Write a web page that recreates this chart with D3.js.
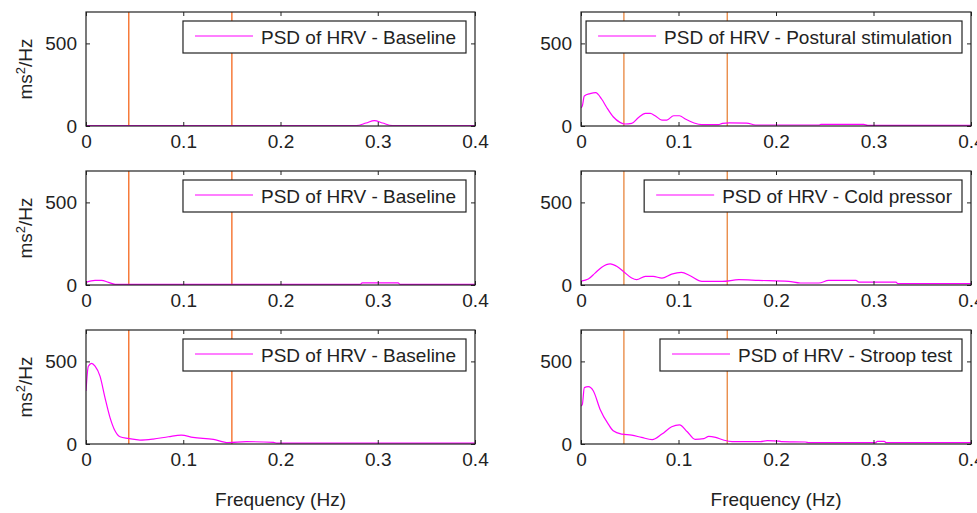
<!DOCTYPE html>
<html lang="en">
<head>
<meta charset="UTF-8">
<title>PSD of HRV</title>
<script src="https://cdn.jsdelivr.net/npm/d3@7"></script>
<style>
  body { margin: 0; background: #fff; }
  svg { display: block; font-family: Arial, "Liberation Sans", sans-serif; }
</style>
</head>
<body>
<svg id="chart" width="977" height="513"></svg>
<script>
// ticks and band limits (Hz)
const xTicks = [0, 0.1, 0.2, 0.3, 0.4];
const yTicks = [0, 500];
const bandEdges = [0.044, 0.15];

// PSD curves (frequency in Hz, PSD in ms^2/Hz)
const baselineAFreq = [0, 0.2, 0.278, 0.288, 0.2965, 0.305, 0.315, 0.4];
const baselineAPsd  = [3, 3, 3, 18, 33, 18, 3, 3];

const posturalFreq = [0, 0.0014, 0.0034, 0.0093, 0.015, 0.0213, 0.0264, 0.033, 0.040, 0.045, 0.052, 0.059, 0.066, 0.071, 0.076, 0.083, 0.088, 0.095, 0.101, 0.107, 0.116, 0.124, 0.141, 0.145, 0.152, 0.170, 0.179, 0.244, 0.246, 0.290, 0.294, 0.4];
const posturalPsd  = [110, 122, 182, 196, 202, 162, 112, 56, 22, 12, 16, 52, 76, 76, 62, 36, 36, 62, 62, 42, 18, 8, 8, 16, 19, 18, 6, 6, 10, 10, 4, 4];

const baselineBFreq = [0, 0.0093, 0.016, 0.023, 0.030, 0.282, 0.284, 0.321, 0.323, 0.4];
const baselineBPsd  = [16, 28, 28, 16, 4, 4, 13, 13, 4, 4];

const coldFreq = [0, 0.0075, 0.0144, 0.0213, 0.030, 0.037, 0.0435, 0.052, 0.057, 0.066, 0.074, 0.083, 0.093, 0.103, 0.112, 0.124, 0.145, 0.162, 0.182, 0.213, 0.225, 0.244, 0.254, 0.282, 0.285, 0.323, 0.325, 0.4];
const coldPsd  = [24, 36, 72, 108, 128, 112, 82, 42, 32, 52, 52, 42, 66, 76, 56, 22, 22, 32, 28, 22, 12, 12, 28, 28, 18, 18, 8, 8];

const baselineCFreq = [0, 0.0024, 0.0058, 0.0093, 0.0144, 0.0195, 0.0247, 0.0298, 0.035, 0.0435, 0.0555, 0.069, 0.0847, 0.098, 0.110, 0.131, 0.146, 0.165, 0.193, 0.196, 0.4];
const baselineCPsd  = [321, 471, 488, 471, 411, 281, 160, 80, 44, 34, 24, 30, 44, 54, 40, 28, 8, 14, 10, 5, 5];

const stroopFreq = [0, 0.0014, 0.0034, 0.0075, 0.0127, 0.0195, 0.028, 0.033, 0.0418, 0.052, 0.062, 0.073, 0.083, 0.093, 0.101, 0.109, 0.117, 0.126, 0.131, 0.138, 0.146, 0.155, 0.184, 0.191, 0.203, 0.206, 0.230, 0.234, 0.302, 0.304, 0.311, 0.313, 0.4];
const stroopPsd  = [230, 241, 341, 347, 321, 211, 120, 80, 60, 54, 40, 26, 60, 104, 116, 74, 28, 32, 46, 40, 24, 14, 14, 20, 18, 14, 12, 8, 8, 16, 16, 8, 8];

const legendLabels = [
  "PSD of HRV - Baseline", "PSD of HRV - Postural stimulation",
  "PSD of HRV - Baseline", "PSD of HRV - Cold pressor",
  "PSD of HRV - Baseline", "PSD of HRV - Stroop test"
];

const panels = [
  { col: 0, row: 0, freq: baselineAFreq, psd: baselineAPsd },
  { col: 1, row: 0, freq: posturalFreq,  psd: posturalPsd },
  { col: 0, row: 1, freq: baselineBFreq, psd: baselineBPsd },
  { col: 1, row: 1, freq: coldFreq,      psd: coldPsd },
  { col: 0, row: 2, freq: baselineCFreq, psd: baselineCPsd },
  { col: 1, row: 2, freq: stroopFreq,    psd: stroopPsd }
].map((p, i) => ({ ...p, label: legendLabels[i] }));

// layout
const colX = [[86, 475], [581, 971]];
const rowY = [[12, 126], [171, 285], [330, 444]];
const bandColor = ["#f5661c", "#e8843c"];
const textColor = "#222";
const fontSize = 19;

const svg = d3.select("#chart");

panels.forEach((p, i) => {
  const [x0, x1] = colX[p.col];
  const [top, bottom] = rowY[p.row];
  const x = d3.scaleLinear().domain([0, 0.4]).range([x0, x1]);
  const y = d3.scaleLinear().domain([0, 690]).range([bottom, top]);
  const g = svg.append("g");

  g.append("clipPath").attr("id", "clip" + i)
    .append("rect").attr("x", x0).attr("y", top)
    .attr("width", x1 - x0).attr("height", bottom - top);

  // LF/HF band limits
  g.selectAll(".band").data(bandEdges).join("line")
    .attr("x1", d => x(d)).attr("x2", d => x(d))
    .attr("y1", top).attr("y2", bottom)
    .attr("stroke", bandColor[p.col]).attr("stroke-width", 1.3);

  // PSD curve
  const line = d3.line().curve(d3.curveMonotoneX)
    .x((d, k) => x(p.freq[k])).y(d => y(d));
  g.append("path").datum(p.psd)
    .attr("clip-path", `url(#clip${i})`)
    .attr("d", line)
    .attr("fill", "none").attr("stroke", "#ff00ff").attr("stroke-width", 1.2);

  // axes (inside ticks on all four sides)
  const fmtX = d => d === 0 ? "0" : d3.format(".1f")(d);
  const axes = [
    g.append("g").attr("transform", `translate(0,${bottom})`)
      .call(d3.axisBottom(x).tickValues(xTicks).tickSize(-4).tickPadding(9).tickFormat(fmtX)),
    g.append("g").attr("transform", `translate(0,${top})`)
      .call(d3.axisTop(x).tickValues(xTicks).tickSize(-4).tickFormat("")),
    g.append("g").attr("transform", `translate(${x0},0)`)
      .call(d3.axisLeft(y).tickValues(yTicks).tickSize(-4).tickPadding(9).tickFormat(d3.format("d"))),
    g.append("g").attr("transform", `translate(${x1},0)`)
      .call(d3.axisRight(y).tickValues(yTicks).tickSize(-4).tickFormat(""))
  ];
  axes.forEach(a => {
    a.select(".domain").remove();
    a.selectAll("line").attr("stroke", textColor);
    a.selectAll("text").attr("fill", textColor)
      .style("font-size", fontSize + "px").style("font-family", "Arial, 'Liberation Sans', sans-serif");
  });

  g.append("rect").attr("x", x0).attr("y", top)
    .attr("width", x1 - x0).attr("height", bottom - top)
    .attr("fill", "none").attr("stroke", textColor).attr("stroke-width", 1.2);

  // legend
  const lg = g.append("g");
  const legTop = top + 9, legRight = x1 - 9;
  const lbox = lg.append("rect");
  const txt = lg.append("text").text(p.label)
    .attr("y", legTop + 23).attr("fill", textColor)
    .style("font-size", fontSize + "px");
  const tw = txt.node().getComputedTextLength();
  const tx = legRight - 10 - tw;
  txt.attr("x", tx);
  const lx1 = tx - 8, lx0 = lx1 - 58;
  lg.append("line").attr("x1", lx0).attr("x2", lx1)
    .attr("y1", legTop + 15).attr("y2", legTop + 15)
    .attr("stroke", "#ff00ff").attr("stroke-width", 1.2);
  lbox.attr("x", lx0 - 12).attr("y", legTop)
    .attr("width", legRight - (lx0 - 12)).attr("height", 32)
    .attr("fill", "#fff").attr("stroke", textColor).attr("stroke-width", 1.2);

  // y label on the left column only
  if (p.col === 0) {
    const yl = svg.append("text")
      .attr("transform", `translate(32,${(top + bottom) / 2}) rotate(-90)`)
      .attr("text-anchor", "middle").attr("fill", textColor)
      .style("font-size", fontSize + "px");
    yl.append("tspan").text("ms");
    yl.append("tspan").text("2").attr("dy", -7).style("font-size", "13px");
    yl.append("tspan").text("/Hz").attr("dy", 7);
  }
  if (p.row === 2) {
    svg.append("text").attr("x", (x0 + x1) / 2 + (p.col === 0 ? 0 : 0)).attr("y", 506)
      .attr("text-anchor", "middle").attr("fill", textColor)
      .style("font-size", fontSize + "px").text("Frequency (Hz)");
  }
});
</script>
</body>
</html>
